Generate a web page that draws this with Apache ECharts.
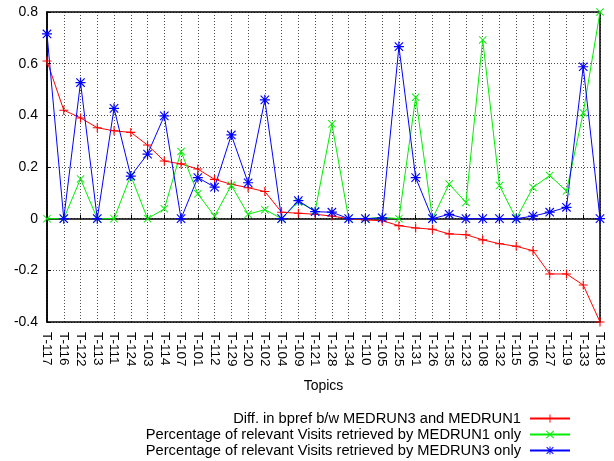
<!DOCTYPE html>
<html><head><meta charset="utf-8">
<script src="https://cdn.jsdelivr.net/npm/echarts@6/dist/echarts.min.js"></script>
<style>html,body{margin:0;padding:0;background:#fff}#c{width:614px;height:461px}</style>
</head><body><div id="c"></div>
<script>
const categories = ['T-117','T-116','T-122','T-113','T-111','T-124','T-103','T-114','T-107','T-101','T-112','T-129','T-120','T-102','T-104','T-109','T-121','T-128','T-134','T-110','T-105','T-125','T-131','T-126','T-135','T-123','T-108','T-132','T-115','T-106','T-127','T-119','T-133','T-118'];
const diffBpref = [0.61,0.42,0.39,0.352,0.34,0.334,0.285,0.223,0.212,0.192,0.152,0.133,0.12,0.105,0.025,0.021,0.017,0.01,0,-0.005,-0.008,-0.027,-0.036,-0.041,-0.059,-0.062,-0.082,-0.097,-0.107,-0.124,-0.214,-0.214,-0.257,-0.40];
const medrun1Only = [0,0,0.154,0,0,0.167,0,0.038,0.26,0.096,0.01,0.129,0.017,0.035,0,0.065,0.03,0.367,0,0,0.005,0,0.47,0,0.134,0.063,0.692,0.128,0,0.121,0.167,0.107,0.41,0.80];
const medrun3Only = [0.715,0,0.527,0,0.427,0.165,0.25,0.398,0,0.159,0.122,0.324,0.139,0.46,0,0.07,0.027,0.025,0,0,0.003,0.666,0.159,0,0.017,0,0,0,0,0.01,0.025,0.044,0.588,0];
const seriesNames = ['Diff. in bpref b/w MEDRUN3 and MEDRUN1','Percentage of relevant Visits retrieved by MEDRUN1 only','Percentage of relevant Visits retrieved by MEDRUN3 only'];

const plusPath = 'path://M0,4.4H10V5.6H0Z M4.4,0H5.6V10H4.4Z';
const xPath = 'path://M0.8,0L10,9.2L9.2,10L0,0.8Z M9.2,0L10,0.8L0.8,10L0,9.2Z';
const starPath = 'path://M0,4.4H10V5.6H0Z M4.4,0H5.6V10H4.4Z M1.2,0.4L9.6,8.8L8.8,9.6L0.4,1.2Z M8.8,0.4L9.6,1.2L1.2,9.6L0.4,8.8Z';

const chart = echarts.init(document.getElementById('c'));
const font = 'Liberation Sans, Arial, sans-serif';
function mk(name, data, color, sym, size){
  return {name, type:'line', data, symbol:sym, symbolSize:size, showSymbol:true,
    lineStyle:{color, width:1}, itemStyle:{color}, animation:false, z: 3};
}
function leg(name, top){
  return {orient:'vertical', right:43, top, padding:0, align:'right', itemWidth:40, itemHeight:10,
    textStyle:{color:'#000', fontSize:14.7, fontFamily:font, padding:[0,4,0,0]},
    data:[name]};
}
chart.setOption({
  animation:false,
  textStyle:{fontFamily:font},
  grid:{left:47, right:14, top:12, bottom:139, show:true, borderColor:'#000', borderWidth:1.5, containLabel:false},
  xAxis:{type:'category', data:categories, boundaryGap:false,
    name:'Topics', nameLocation:'middle', nameGap:57,
    nameTextStyle:{color:'#000', fontSize:14, fontFamily:font},
    axisLine:{lineStyle:{color:'#000', width:1.5}},
    axisTick:{show:true, inside:true, length:4, interval:0, lineStyle:{color:'#000'}},
    axisLabel:{interval:0, rotate:-90, color:'#000', fontSize:13.5, fontFamily:font, margin:10},
    splitLine:{show:true, interval:0, lineStyle:{color:'#000', type:[1,2], width:1, opacity:0.7}}},
  yAxis:{type:'value', min:-0.4, max:0.8, interval:0.2,
    axisLine:{show:true, lineStyle:{color:'#000', width:1.5}},
    axisTick:{show:true, inside:true, length:4, lineStyle:{color:'#000'}},
    axisLabel:{color:'#000', fontSize:14, fontFamily:font, margin:9,
      formatter:v=>String(Math.round(v*10)/10)},
    splitLine:{show:true, lineStyle:{color:'#000', type:[1,2], width:1, opacity:0.7}}},
  legend:[leg(seriesNames[0], 411), leg(seriesNames[1], 427), leg(seriesNames[2], 443)],
  series:[
    mk(seriesNames[0], diffBpref, '#ff0000', plusPath, 9),
    mk(seriesNames[1], medrun1Only, '#00ee00', xPath, 8),
    mk(seriesNames[2], medrun3Only, '#0000ff', starPath, 10)
  ]
});
</script></body></html>
